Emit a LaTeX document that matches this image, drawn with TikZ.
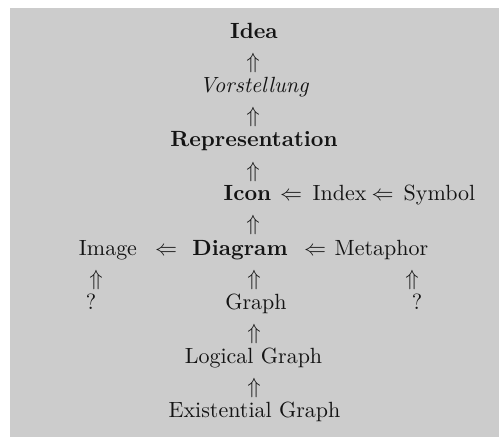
\RequirePackage{fix-cm}
\documentclass[tikz,border=0pt]{standalone}
\usepackage{fontspec}
\setmainfont{lmroman10}[Extension=.otf, UprightFont=*-regular, BoldFont=*-bold,
  ItalicFont=*-italic, BoldItalicFont=*-bolditalic]
\definecolor{bggray}{HTML}{CCCCCC}
\definecolor{ink}{HTML}{141414}
\begin{document}
\begin{tikzpicture}[x=1pt,y=-1pt,
  every node/.style={inner sep=0pt, anchor=base, text=ink,
    font=\fontsize{22}{26}\selectfont},
  term/.style={},
  keyterm/.style={font=\fontsize{22}{26}\selectfont\bfseries},
  upglyph/.style={},
  leftglyph/.style={}]
\useasboundingbox (0,0) rectangle (499,437);
\fill[bggray] (10,8) rectangle (499,437);

% column of terms
\node[keyterm] (idea) at (254,38) {Idea};
\node[upglyph] (u1) at (253,68) {$\Uparrow$};
\node[term] (vor) at (254,92) {\itshape Vorstellung};
\node[upglyph] (u2) at (253,122) {$\Uparrow$};
\node[keyterm] (rep) at (254,146.5) {Representation};
\node[upglyph] (u3) at (253,177) {$\Uparrow$};

% Icon row
\node[keyterm] (icon) at (247.5,200.5) {Icon};
\node[leftglyph] (l1) at (291,200.5) {$\Leftarrow$};
\node[term] (index) at (339.5,200.5) {Index};
\node[leftglyph] (l2) at (382.5,200.5) {$\Leftarrow$};
\node[term] (symbol) at (439.5,200.5) {Symbol};
\node[upglyph] (u4) at (253,230) {$\Uparrow$};

% Diagram row
\node[term] (image) at (108,255) {Image};
\node[leftglyph] (l3) at (166,255) {$\Leftarrow$};
\node[keyterm] (diagram) at (240,255) {Diagram};
\node[leftglyph] (l4) at (315,255) {$\Leftarrow$};
\node[term] (metaphor) at (381.5,255) {Metaphor};

\node[upglyph] (u5) at (96,285) {$\Uparrow$};
\node[upglyph] (u6) at (254,285) {$\Uparrow$};
\node[upglyph] (u7) at (412,285) {$\Uparrow$};

\node[term] (q1) at (91,309) {?};
\node[term] (graph) at (256,309) {Graph};
\node[term] (q2) at (417,309) {?};
\node[upglyph] (u8) at (254,339) {$\Uparrow$};
\node[term] (logical) at (253.5,363) {Logical Graph};
\node[upglyph] (u9) at (254,393) {$\Uparrow$};
\node[term] (exist) at (254.5,417) {Existential Graph};
\end{tikzpicture}
\end{document}
